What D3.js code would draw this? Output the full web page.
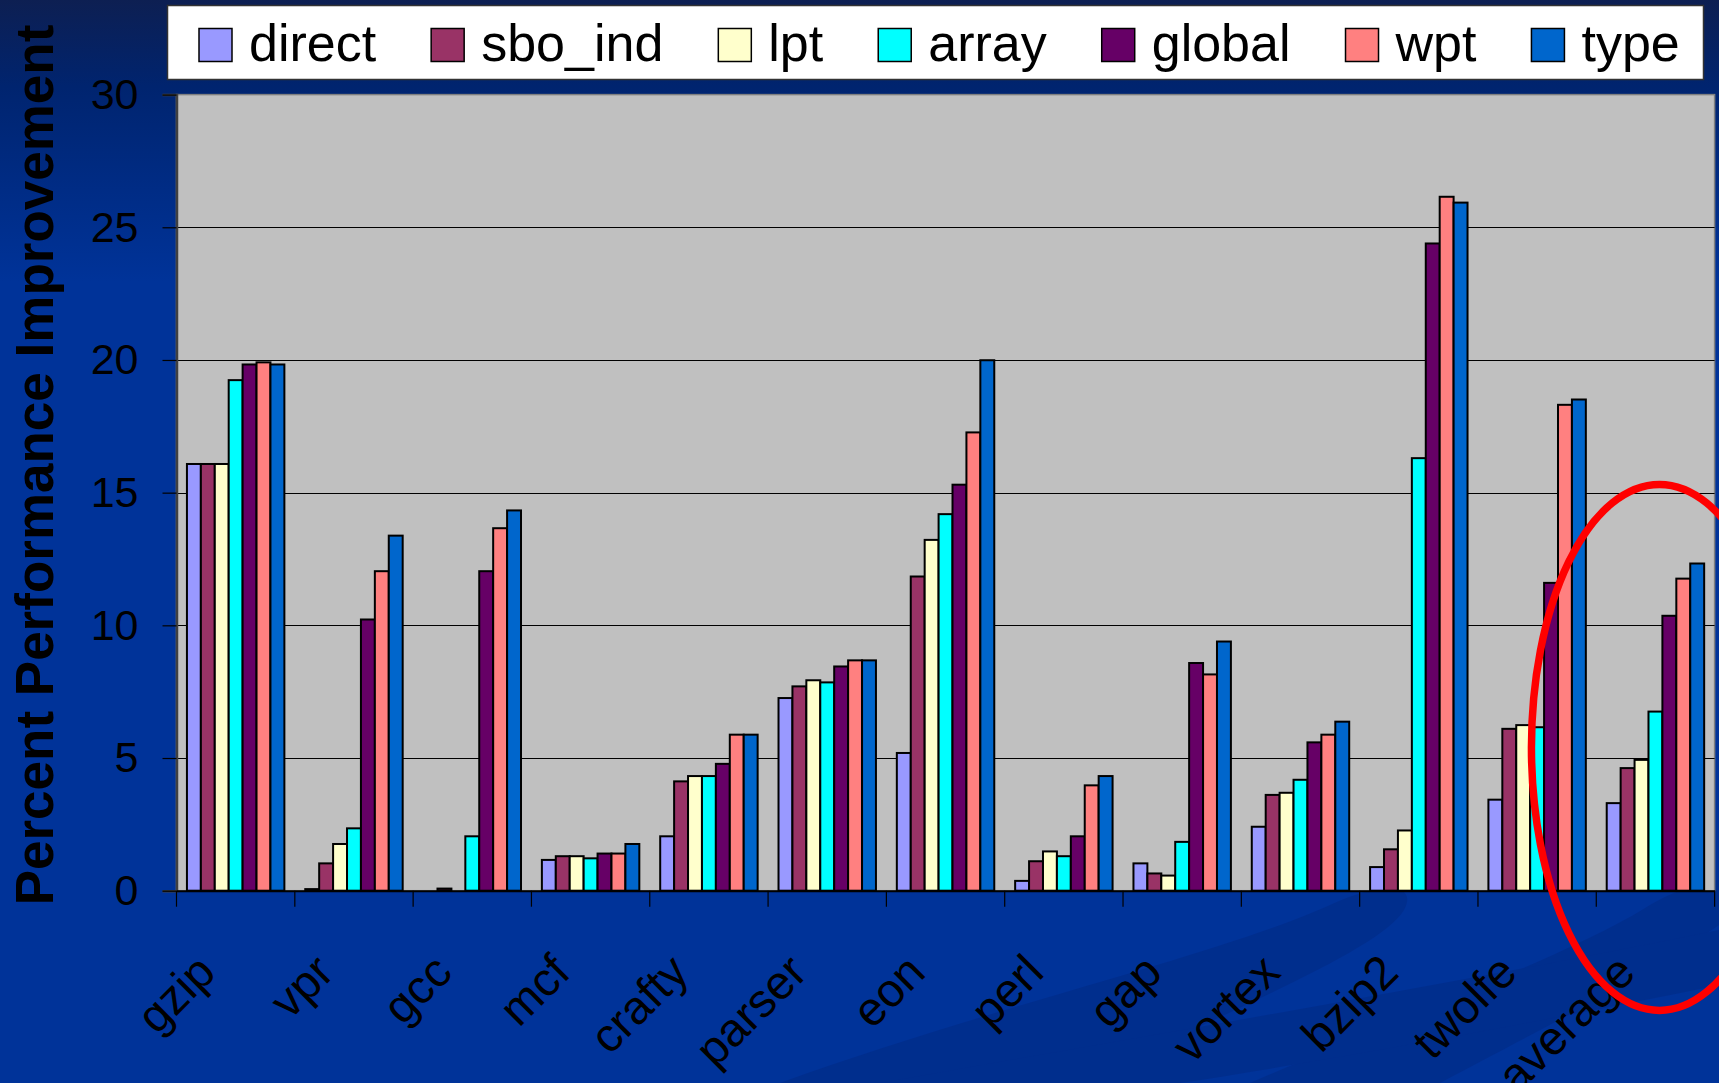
<!DOCTYPE html>
<html>
<head>
<meta charset="utf-8">
<script src="https://cdn.jsdelivr.net/npm/d3@7"></script>
<style>
  html, body { margin: 0; padding: 0; overflow: hidden; background: #003399; }
  svg { display: block; }
  text { font-family: "Liberation Sans", Arial, Helvetica, sans-serif; }
</style>
</head>
<body>
<svg id="chart" width="1719" height="1083"></svg>
<script>
// Benchmarks on the x axis (last group is the mean)
const categories = ["gzip", "vpr", "gcc", "mcf", "crafty", "parser", "eon", "perl", "gap", "vortex", "bzip2", "twolfe", "average"];

// Series names and fills, in legend order
const seriesNames = ["direct", "sbo_ind", "lpt", "array", "global", "wpt", "type"];
const seriesColors = ["#9999FF", "#993366", "#FFFFCC", "#00FFFF", "#660066", "#FF8080", "#0066CC"];

// Percent performance improvement per benchmark
const direct = [16.08, 0.06, 0.00, 1.16, 2.05, 7.26, 5.19, 0.37, 1.03, 2.41, 0.89, 3.43, 3.30];
const sboInd = [16.08, 1.03, 0.08, 1.30, 4.12, 7.70, 11.84, 1.11, 0.65, 3.61, 1.56, 6.10, 4.62];
const lpt    = [16.08, 1.76, 0.00, 1.30, 4.32, 7.93, 13.22, 1.48, 0.57, 3.69, 2.27, 6.24, 4.93];
const array  = [19.24, 2.35, 2.05, 1.22, 4.32, 7.85, 14.19, 1.30, 1.84, 4.18, 16.30, 6.16, 6.75];
const global = [19.83, 10.22, 12.04, 1.40, 4.78, 8.45, 15.30, 2.05, 8.58, 5.59, 24.39, 11.60, 10.36];
const wpt    = [19.91, 12.04, 13.66, 1.40, 5.88, 8.68, 17.27, 3.97, 8.15, 5.88, 26.15, 18.31, 11.76];
const type   = [19.83, 13.38, 14.33, 1.76, 5.88, 8.68, 19.99, 4.32, 9.39, 6.37, 25.93, 18.51, 12.33];

const yTicks = [0, 5, 10, 15, 20, 25, 30];
const yTitle = "Percent Performance Improvement";

const seriesValues = [direct, sboInd, lpt, array, global, wpt, type];
const table = categories.map((c, i) => ({
  category: c,
  values: seriesNames.map((s, j) => ({ series: s, value: seriesValues[j][i], color: seriesColors[j] }))
}));

const W = 1719, H = 1083;
const plot = { left: 176.5, right: 1714.6, top: 94.6, bottom: 890.7 };

const svg = d3.select("#chart");

// ---- slide background ----
const defs = svg.append("defs");
const bg = defs.append("linearGradient").attr("id", "bgGrad")
  .attr("x1", 0).attr("y1", 0).attr("x2", 0).attr("y2", 1);
bg.append("stop").attr("offset", "0%").attr("stop-color", "#0d1f52");
bg.append("stop").attr("offset", "8%").attr("stop-color", "#00246f");
bg.append("stop").attr("offset", "26%").attr("stop-color", "#003399");
bg.append("stop").attr("offset", "100%").attr("stop-color", "#003399");
svg.append("rect").attr("width", W).attr("height", H).attr("fill", "url(#bgGrad)");

// soft darker swooshes in the lower right of the slide
const swoosh = svg.append("g").attr("fill", "#002a84").attr("opacity", 0.55);
swoosh.append("path")
  .attr("d", "M 780,1083 C 980,1010 1220,955 1330,905 C 1385,880 1418,884 1404,910 C 1380,950 1230,1010 1080,1083 Z");
swoosh.append("path")
  .attr("d", "M 1250,1083 C 1420,1010 1580,950 1650,905 C 1690,882 1719,880 1719,880 L 1719,925 C 1640,980 1520,1040 1440,1083 Z");
swoosh.append("path")
  .attr("d", "M 880,1083 C 1150,1035 1450,985 1719,930 L 1719,985 C 1500,1030 1300,1065 1180,1083 Z");

// ---- scales ----
const x = d3.scaleBand().domain(categories).range([plot.left, plot.right]).paddingInner(0).paddingOuter(0);
const xs = d3.scaleBand().domain(seriesNames).range([0, x.bandwidth()]).paddingInner(0).paddingOuter(0.75);
const y = d3.scaleLinear().domain([0, 30]).range([plot.bottom, plot.top]);

// ---- plot area ----
svg.append("rect")
  .attr("x", plot.left).attr("y", plot.top)
  .attr("width", plot.right - plot.left).attr("height", plot.bottom - plot.top)
  .attr("fill", "#C0C0C0").attr("stroke", "#808080").attr("stroke-width", 1.5);

// gridlines
svg.append("g").selectAll("line")
  .data(yTicks.filter(t => t > 0 && t < 30))
  .join("line")
  .attr("x1", plot.left).attr("x2", plot.right)
  .attr("y1", d => Math.round(y(d)) + 0.5).attr("y2", d => Math.round(y(d)) + 0.5)
  .attr("stroke", "#000").attr("stroke-width", 1);

// ---- bars ----
const groups = svg.append("g").selectAll("g")
  .data(table)
  .join("g")
  .attr("transform", d => `translate(${x(d.category)},0)`);

groups.selectAll("rect")
  .data(d => d.values)
  .join("rect")
  .attr("x", d => xs(d.series))
  .attr("width", xs.bandwidth())
  .attr("y", d => y(d.value))
  .attr("height", d => y(0) - y(d.value))
  .attr("fill", d => d.color)
  .attr("stroke", "#000")
  .attr("stroke-width", 2);

// ---- y axis ----
const yAxis = svg.append("g")
  .attr("transform", `translate(${plot.left},0)`)
  .call(d3.axisLeft(y).tickValues(yTicks).tickSize(14).tickPadding(24).tickFormat(d3.format("d")));
yAxis.select(".domain").attr("stroke", "#404040").attr("stroke-width", 2.5);
yAxis.selectAll(".tick line").attr("stroke", "#000").attr("stroke-width", 1.2);
yAxis.selectAll(".tick text")
  .attr("fill", "#000").style("font-size", "43px")
  .style("font-family", "'Liberation Sans', Arial, sans-serif");

// ---- x axis ----
const xAxis = svg.append("g")
  .attr("transform", `translate(0,${plot.bottom})`)
  .call(d3.axisBottom(x).tickSize(0).tickPadding(0));
xAxis.select(".domain").attr("stroke", "#000").attr("stroke-width", 2);
xAxis.selectAll(".tick text")
  .attr("fill", "#000")
  .attr("y", 0).attr("dy", 0)
  .attr("text-anchor", "end")
  .attr("transform", "translate(-18,84) rotate(-45)")
  .style("font-size", "47px")
  .style("font-family", "'Liberation Sans', Arial, sans-serif");

// category separators below the axis
const bounds = categories.map(c => x(c)).concat([plot.right]);
xAxis.append("g").selectAll("line")
  .data(bounds)
  .join("line")
  .attr("x1", d => d).attr("x2", d => d)
  .attr("y1", 0).attr("y2", 16)
  .attr("stroke", "#000").attr("stroke-width", 1.2);

// ---- y axis title ----
svg.append("text")
  .attr("transform", "translate(53,465) rotate(-90)")
  .attr("text-anchor", "middle")
  .attr("fill", "#000")
  .style("font-size", "53px")
  .style("font-weight", "bold")
  .text(yTitle);

// ---- legend ----
const legend = svg.append("g");
legend.append("rect")
  .attr("x", 167.5).attr("y", 5.5).attr("width", 1536).attr("height", 74)
  .attr("fill", "#fff").attr("stroke", "#333").attr("stroke-width", 1.5);

let lx = 199;
seriesNames.forEach((name, i) => {
  const item = legend.append("g");
  item.append("rect")
    .attr("x", lx).attr("y", 28.5).attr("width", 33).attr("height", 33)
    .attr("fill", seriesColors[i]).attr("stroke", "#000").attr("stroke-width", 1.5);
  const t = item.append("text")
    .attr("x", lx + 50).attr("y", 61)
    .attr("fill", "#000")
    .style("font-size", "52px")
    .text(name);
  lx = lx + 50 + t.node().getComputedTextLength() + 55;
});

// ---- highlight around the average group ----
svg.append("ellipse")
  .attr("cx", x("average") + x.bandwidth() / 2 + 4)
  .attr("cy", y(5.4))
  .attr("rx", 128).attr("ry", 263)
  .attr("fill", "none")
  .attr("stroke", "#FF0000")
  .attr("stroke-width", 7.5);
</script>
</body>
</html>
